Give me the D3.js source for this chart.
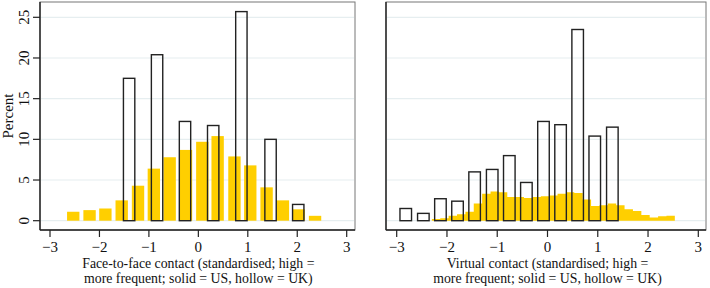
<!DOCTYPE html>
<html>
<head>
<meta charset="utf-8">
<script src="https://cdn.jsdelivr.net/npm/d3@7"></script>
<style>
  html, body { margin: 0; padding: 0; background: #fff; }
  svg { display: block; font-family: "Liberation Serif", "Times New Roman", serif; }
</style>
</head>
<body>
<svg id="chart" width="710" height="288"></svg>
<script>
// ---- data (percent) ----
const yTicks = [0, 5, 10, 15, 20, 25];
const xTicks = [-3, -2, -1, 0, 1, 2, 3];

// face-to-face, US (solid)
const faceUsCenters = [-2.53, -2.2, -1.88, -1.55, -1.22, -0.9, -0.58, -0.25, 0.08, 0.39, 0.73, 1.05, 1.38, 1.71, 2.03, 2.36];
const faceUsValues = [1.1, 1.3, 1.5, 2.5, 4.3, 6.4, 7.8, 8.7, 9.7, 10.4, 7.9, 6.8, 4.1, 2.5, 1.4, 0.6];

// face-to-face, UK (hollow)
const faceUkCenters = [-1.4, -0.835, -0.27, 0.3, 0.87, 1.46, 2.02];
const faceUkValues = [17.5, 20.4, 12.2, 11.7, 25.7, 10.0, 2.0];

// virtual, US (solid, fine bins without gaps)
const virtUsEdges = [-2.3, -2.133, -1.967, -1.8, -1.633, -1.467, -1.3, -1.133, -0.967, -0.8, -0.633, -0.467, -0.3, -0.133,
  0.033, 0.2, 0.367, 0.533, 0.7, 0.867, 1.033, 1.2, 1.367, 1.533, 1.7, 1.867, 2.033, 2.2, 2.367, 2.533];
const virtUsValues = [0.2, 0.3, 0.6, 0.8, 1.1, 2.1, 3.3, 3.6, 3.5, 2.9, 2.9, 2.8, 2.9, 3.0,
  3.1, 3.3, 3.5, 3.4, 2.6, 1.8, 1.9, 2.1, 1.9, 1.4, 1.2, 0.7, 0.4, 0.55, 0.6];

// virtual, UK (hollow)
const virtUkCenters = [-2.82, -2.47, -2.13, -1.79, -1.45, -1.1, -0.76, -0.42, -0.08, 0.26, 0.6, 0.94, 1.29];
const virtUkValues = [1.5, 0.9, 2.7, 2.4, 6.0, 6.3, 8.0, 4.7, 12.2, 11.8, 23.5, 10.4, 11.5];

const titles = [
  ["Face-to-face contact (standardised; high =", "more frequent; solid = US, hollow = UK)"],
  ["Virtual contact (standardised; high =", "more frequent; solid = US, hollow = UK)"]
];

// ---- layout ----
const yellow = "#ffcf00";
const ink = "#222";
const gridColor = "#e6eef0";
const fontSize = 15;

const svg = d3.select("#chart");

const y = d3.scaleLinear().domain([0, 25]).range([220.7, 17.3]);

const panels = [
  { frame: [40, 2, 355, 230], xr: [50, 346.7], showY: true, title: titles[0] },
  { frame: [386, 2, 706, 230], xr: [396.7, 698.3], showY: false, title: titles[1] }
];

panels.forEach((p, i) => {
  const [fx0, fy0, fx1, fy1] = p.frame;
  const x = d3.scaleLinear().domain([-3, 3]).range(p.xr);
  const g = svg.append("g");

  // gridlines
  g.selectAll("line.grid")
    .data(yTicks)
    .join("line")
    .attr("x1", fx0 + 1).attr("x2", fx1 - 1)
    .attr("y1", d => y(d)).attr("y2", d => y(d))
    .attr("stroke", gridColor).attr("stroke-width", 1.2);

  // solid (US) bars
  if (i === 0) {
    const w = 0.25;
    g.selectAll("rect.us")
      .data(faceUsCenters.map((c, k) => ({ c, v: faceUsValues[k] })))
      .join("rect")
      .attr("x", d => x(d.c - w / 2))
      .attr("width", d => x(d.c + w / 2) - x(d.c - w / 2))
      .attr("y", d => y(d.v))
      .attr("height", d => y(0) - y(d.v))
      .attr("fill", yellow);
  } else {
    const area = [];
    virtUsValues.forEach((v, k) => {
      area.push([virtUsEdges[k], v], [virtUsEdges[k + 1], v]);
    });
    g.append("path")
      .datum(area)
      .attr("fill", yellow)
      .attr("d", d3.area().x(d => x(d[0])).y0(y(0)).y1(d => y(d[1])));
  }

  // hollow (UK) bars
  const centers = i === 0 ? faceUkCenters : virtUkCenters;
  const values = i === 0 ? faceUkValues : virtUkValues;
  const hw = 0.23;
  g.selectAll("rect.uk")
    .data(centers.map((c, k) => ({ c, v: values[k] })))
    .join("rect")
    .attr("x", d => x(d.c - hw / 2))
    .attr("width", d => x(d.c + hw / 2) - x(d.c - hw / 2))
    .attr("y", d => y(d.v))
    .attr("height", d => y(0) - y(d.v))
    .attr("fill", "none")
    .attr("stroke", ink)
    .attr("stroke-width", 1.4);

  // frame
  g.append("rect")
    .attr("x", fx0).attr("y", fy0)
    .attr("width", fx1 - fx0).attr("height", fy1 - fy0)
    .attr("fill", "none").attr("stroke", "#777").attr("stroke-width", 1);

  // axes lines
  g.append("line").attr("x1", fx0).attr("x2", fx0).attr("y1", fy0).attr("y2", fy1)
    .attr("stroke", ink).attr("stroke-width", 1.4);
  g.append("line").attr("x1", fx0).attr("x2", fx1).attr("y1", fy1).attr("y2", fy1)
    .attr("stroke", ink).attr("stroke-width", 1.4);

  // x ticks
  const xt = g.append("g").attr("transform", `translate(0,${fy1})`);
  xt.selectAll("line").data(xTicks).join("line")
    .attr("x1", d => x(d)).attr("x2", d => x(d))
    .attr("y1", 0).attr("y2", 7)
    .attr("stroke", ink).attr("stroke-width", 1.2);
  xt.selectAll("text").data(xTicks).join("text")
    .attr("x", d => x(d)).attr("y", 21.5)
    .attr("text-anchor", "middle")
    .attr("font-size", fontSize)
    .attr("fill", "#111")
    .text(d => d3.format("d")(d));

  // x title
  const cx = (x(-3) + x(3)) / 2;
  g.selectAll("text.title").data(p.title).join("text")
    .attr("x", cx).attr("y", (d, k) => 267.5 + k * 15)
    .attr("text-anchor", "middle")
    .attr("font-size", 13.8)
    .attr("fill", "#111")
    .text(d => d);

  // y ticks
  if (p.showY) {
    const yt = g.append("g").attr("transform", `translate(${fx0},0)`);
    yt.selectAll("line").data(yTicks).join("line")
      .attr("x1", -7).attr("x2", 0)
      .attr("y1", d => y(d)).attr("y2", d => y(d))
      .attr("stroke", ink).attr("stroke-width", 1.2);
    yt.selectAll("text").data(yTicks).join("text")
      .attr("transform", d => `translate(-11,${y(d)}) rotate(-90)`)
      .attr("text-anchor", "middle")
      .attr("font-size", fontSize)
      .attr("fill", "#111")
      .text(d => d);
    g.append("text")
      .attr("transform", `translate(13,${(fy0 + fy1) / 2}) rotate(-90)`)
      .attr("text-anchor", "middle")
      .attr("font-size", fontSize)
      .attr("fill", "#111")
      .text("Percent");
  }
});
</script>
</body>
</html>
